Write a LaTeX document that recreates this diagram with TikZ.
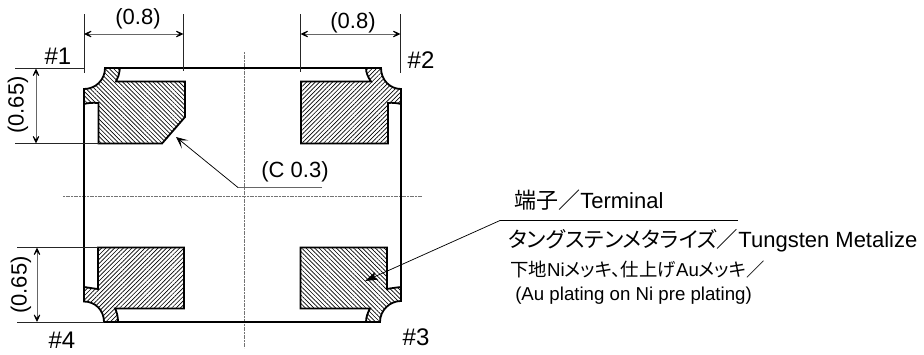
\documentclass[tikz,border=0pt]{standalone}
\usepackage{fontspec}
\setmainfont{Liberation Sans}
\newfontfamily\cjk[RawFeature=+palt]{Noto Sans CJK JP}
\usetikzlibrary{arrows.meta,patterns.meta}
\tikzset{
  outline/.style={line width=1.35pt,line join=miter},
  padnw/.style={outline,pattern={Lines[angle=-45,distance=2.3pt,line width=0.5pt]},pattern color=black},
  padne/.style={outline,pattern={Lines[angle=45,distance=2.3pt,line width=0.5pt]},pattern color=black},
  extline/.style={line width=0.5pt,black!85},
  dimline/.style={line width=0.7pt,black!60,{Stealth[length=8.5pt,width=8pt,inset=5.5pt,black]}-{Stealth[length=8.5pt,width=8pt,inset=5.5pt,black]}},
  leader/.style={line width=0.55pt,-{Stealth[length=9pt,width=8pt,inset=5pt]}},
  solidleader/.style={line width=0.55pt,-{Stealth[length=9.5pt,width=6pt,inset=2pt]}},
  underline/.style={line width=0.8pt,black!60},
  centre/.style={line width=0.6pt,black!55,dash pattern=on 1.6pt off 0.4pt},
  lbl/.style={inner sep=0pt,font=\fontsize{16.5pt}{18pt}\selectfont},
  pin/.style={inner sep=0pt,font=\fontsize{18pt}{20pt}\selectfont},
  small/.style={inner sep=0pt,anchor=base west,font=\fontsize{14pt}{16pt}\selectfont}
}
\begin{document}
\begin{tikzpicture}[x=0.75pt,y=-0.75pt]
\useasboundingbox (0,0) rectangle (924,354);
% centre lines
\coordinate (cvt) at (244,52); \coordinate (cvb) at (244,348);
\coordinate (chl) at (63,196.7); \coordinate (chr) at (422,196.7);
\draw[centre] (cvt) -- (cvb);
\draw[centre] (chl) -- (chr);
% body
\coordinate (tl) at (105,68); \coordinate (tr) at (381,68);
\coordinate (rt) at (401,89); \coordinate (rb) at (401,301);
\coordinate (br) at (380,322); \coordinate (bl) at (104,322);
\coordinate (lb) at (84,301.5); \coordinate (lt) at (84,89);
\draw[outline] (tl) -- (tr);
\draw[outline] (rt) -- (rb);
\draw[outline] (br) -- (bl);
\draw[outline] (lb) -- (lt);
% pads
\draw[padnw] (185,81.5) -- (185,117) -- (162,143.5) -- (98.5,143.5) -- (98.5,103)
  .. controls (92,102.5) and (88,103) .. (84,104) -- (lt)
  .. controls (95.5,89) and (105,80) .. (tl) -- (120,68)
  .. controls (119,75) and (118,78) .. (116,81.5) -- cycle;
\draw[padne] (301,81.5) -- (371,81.5) .. controls (368,77) and (366,73) .. (366,68) -- (tr)
  .. controls (381,80) and (390,89) .. (rt) -- (401,104)
  .. controls (397,103) and (392,102.5) .. (388,103) -- (388,143.5) -- (301,143.5) -- cycle;
\draw[padne] (98,247.5) -- (184,247.5) -- (184,308.5) -- (115,308.5)
  .. controls (117,312) and (118,317) .. (118,322) -- (bl)
  .. controls (104,310) and (95,301.5) .. (lb) -- (84,287)
  .. controls (88,287.5) and (93,288.5) .. (98,289) -- cycle;
\draw[padnw] (300.5,247.5) -- (387,247.5) -- (387,289)
  .. controls (392,288) and (397,287.5) .. (401,287) -- (rb)
  .. controls (390,301) and (380,310) .. (br) -- (366,322)
  .. controls (366,317) and (368,312) .. (370,308.5) -- (300.5,308.5) -- cycle;
% extension lines
\coordinate (a1) at (84,14); \coordinate (a2) at (84,73);
\coordinate (b1) at (183.5,14); \coordinate (b2) at (183.5,71);
\coordinate (c1) at (300.5,14); \coordinate (c2) at (300.5,72);
\coordinate (d1) at (400.5,14); \coordinate (d2) at (400.5,73);
\draw[extline] (a1) -- (a2); \draw[extline] (b1) -- (b2);
\draw[extline] (c1) -- (c2); \draw[extline] (d1) -- (d2);
\coordinate (e1) at (15,68.5); \coordinate (e2) at (84,68.5);
\coordinate (f1) at (15,143.5); \coordinate (f2) at (98.5,143.5);
\coordinate (g1) at (17,247.5); \coordinate (g2) at (98,247.5);
\coordinate (h1) at (17,322); \coordinate (h2) at (104,322);
\draw[extline] (e1) -- (e2); \draw[extline] (f1) -- (f2);
\draw[extline] (g1) -- (g2); \draw[extline] (h1) -- (h2);
% dimensions
\coordinate (p1) at (84,34); \coordinate (p2) at (183.5,34);
\coordinate (q1) at (300.5,34); \coordinate (q2) at (400.5,34);
\coordinate (r1) at (36,68.5); \coordinate (r2) at (36,143.5);
\coordinate (s1) at (37,247.5); \coordinate (s2) at (37,322);
\draw[dimline] (p1) -- (p2);
\draw[dimline] (q1) -- (q2);
\draw[dimline] (r1) -- (r2);
\draw[dimline] (s1) -- (s2);
\node[lbl] (dim1) at (138,18.5) {(0.8)};
\node[lbl] (dim2) at (353,22.5) {(0.8)};
\node[lbl,rotate=90] (dim3) at (18,105) {(0.65)};
\node[lbl,rotate=90] (dim4) at (21,285) {(0.65)};
\node[pin] (n1) at (58,56) {\#1};
\node[pin] (n2) at (421,60) {\#2};
\node[pin] (n3) at (416,337) {\#3};
\node[pin] (n4) at (62,340) {\#4};
% leader C 0.3
\node[lbl] (cham) at (295,172) {(C 0.3)};
\coordinate (cu1) at (322,187.5); \coordinate (cu2) at (238,187.5); \coordinate (ctip) at (176,137);
\draw[underline] (cu1) -- (cu2);
\draw[leader] (cu2) -- (ctip);
% leader terminal
\coordinate (tu1) at (738,220.5); \coordinate (tu2) at (500,220.5); \coordinate (ttip) at (365,281);
\draw[line width=0.55pt] (tu1) -- (tu2);
\draw[solidleader] (tu2) -- (ttip);
\node[lbl,anchor=base west] (t1) at (514,208) {{\cjk 端子／}Terminal};
\node[lbl,anchor=base west] (t2) at (508,247) {{\cjk\fontsize{16.1pt}{18pt}\selectfont タングステンメタライズ／}Tungsten Metalize};
\node[small] (t3) at (510,276) {{\cjk\fontsize{13.8pt}{16pt}\selectfont 下地}Ni{\cjk\fontsize{13.8pt}{16pt}\selectfont メッキ、仕上げ}Au{\cjk\fontsize{13.8pt}{16pt}\selectfont メッキ／}};
\node[small] (t4) at (515,300) {(Au plating on Ni pre plating)};
\end{tikzpicture}
\end{document}
